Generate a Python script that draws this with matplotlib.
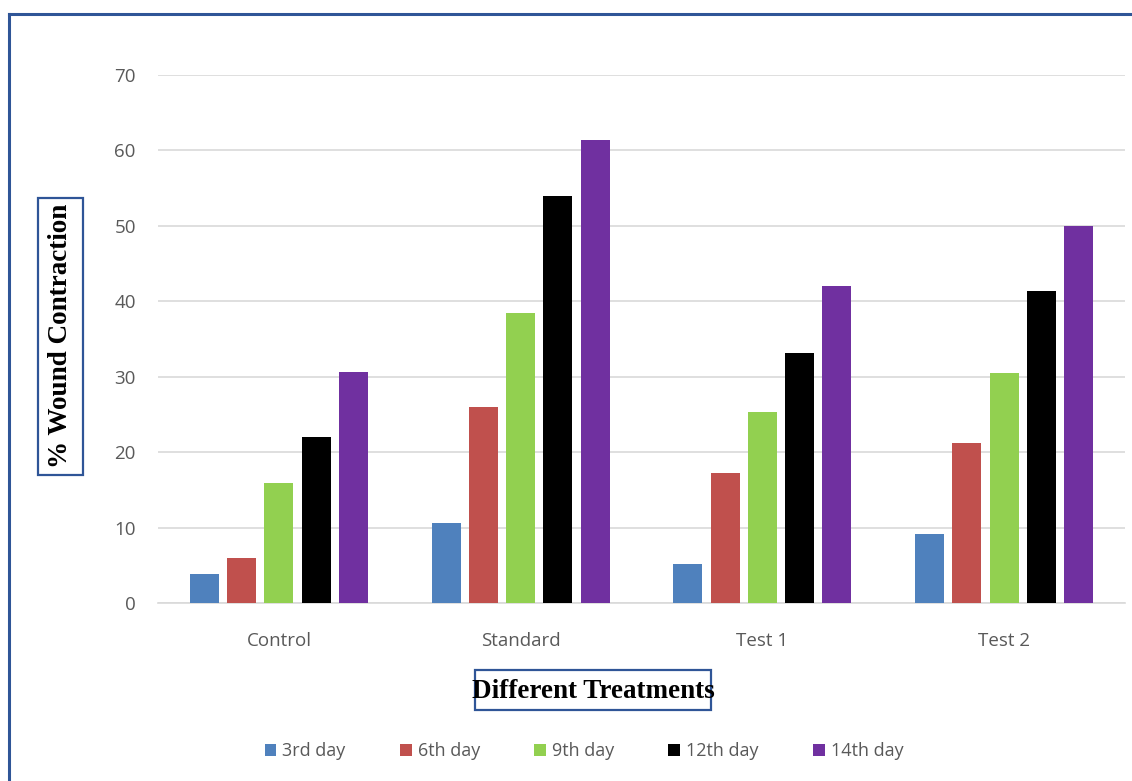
import matplotlib.pyplot as plt
from matplotlib.patches import Rectangle, Patch
from matplotlib.lines import Line2D
import numpy as np

# wound contraction (%) per treatment group and day
treatments = ["Control", "Standard", "Test 1", "Test 2"]
days = ["3rd day", "6th day", "9th day", "12th day", "14th day"]
day3 = [3.9, 10.6, 5.2, 9.2]
day6 = [5.9, 26.0, 17.3, 21.2]
day9 = [15.9, 38.5, 25.3, 30.5]
day12 = [22.0, 54.0, 33.2, 41.4]
day14 = [30.6, 61.4, 42.0, 50.0]
series = [day3, day6, day9, day12, day14]
colors = ["#4F81BD", "#C0504D", "#92D050", "#000000", "#7030A0"]

W, H = 1132, 781
fig = plt.figure(figsize=(W / 100, H / 100), dpi=100)


def fx(px):
    return px / W


def fy(py):
    return 1 - py / H


ax = fig.add_axes([fx(158), fy(603), fx(1125) - fx(158), fy(75) - fy(603)])

x = np.arange(len(treatments))
step = 0.154
width = 0.12
for i, (vals, col) in enumerate(zip(series, colors)):
    ax.bar(x + (i - 2) * step, vals, width=width, color=col, linewidth=0, zorder=3)

ax.set_xlim(-0.5, len(treatments) - 0.5)
ax.set_ylim(0, 70)
ax.set_yticks(np.arange(0, 71, 10))
ax.set_xticks(x)
ax.set_xticklabels(treatments)
ax.yaxis.grid(True, color="#D9D9D9", linewidth=1.2, zorder=0)
ax.set_axisbelow(True)
for side in ["top", "right", "left"]:
    ax.spines[side].set_visible(False)
ax.spines["bottom"].set_color("#D9D9D9")
ax.spines["bottom"].set_linewidth(1.2)
ax.tick_params(axis="y", length=0, pad=16, labelsize=13.5, labelcolor="#595959")
ax.tick_params(axis="x", length=0, pad=21, labelsize=13.5, labelcolor="#595959")
for lbl in ax.get_xticklabels() + ax.get_yticklabels():
    lbl.set_fontfamily("Open Sans")

# boxed axis titles
fig.add_artist(Rectangle((fx(38), fy(475)), fx(83) - fx(38), fy(198) - fy(475),
                         transform=fig.transFigure, fill=False,
                         edgecolor="#2F5597", linewidth=1.6))
fig.text(fx(61), fy(336), "% Wound Contraction", rotation=90, ha="center",
         va="center", fontsize=19.5, fontweight="bold", family="Liberation Serif")
fig.add_artist(Rectangle((fx(475), fy(710)), fx(711) - fx(475), fy(670) - fy(710),
                         transform=fig.transFigure, fill=False,
                         edgecolor="#2F5597", linewidth=1.6))
fig.text(fx(593), fy(691), "Different Treatments", ha="center", va="center",
         fontsize=19.5, fontweight="bold", family="Liberation Serif")

# legend
handles = [Patch(facecolor=c, edgecolor="none", label=d) for c, d in zip(colors, days)]
leg = fig.legend(handles=handles, ncol=5, loc="center",
                 bbox_to_anchor=(fx(584), fy(751)), frameon=False,
                 handlelength=0.66, handleheight=0.66, handletextpad=0.33,
                 columnspacing=3.0, prop={"family": "Open Sans", "size": 13})
for t in leg.get_texts():
    t.set_color("#595959")

# outer frame
fig.add_artist(Line2D([fx(9), fx(9)], [0, fy(14)], transform=fig.transFigure,
                      color="#2F5597", linewidth=2.2))
fig.add_artist(Line2D([fx(9), 1], [fy(14), fy(14)], transform=fig.transFigure,
                      color="#2F5597", linewidth=2.2))

fig.savefig("out.png", dpi=100, facecolor="white")
